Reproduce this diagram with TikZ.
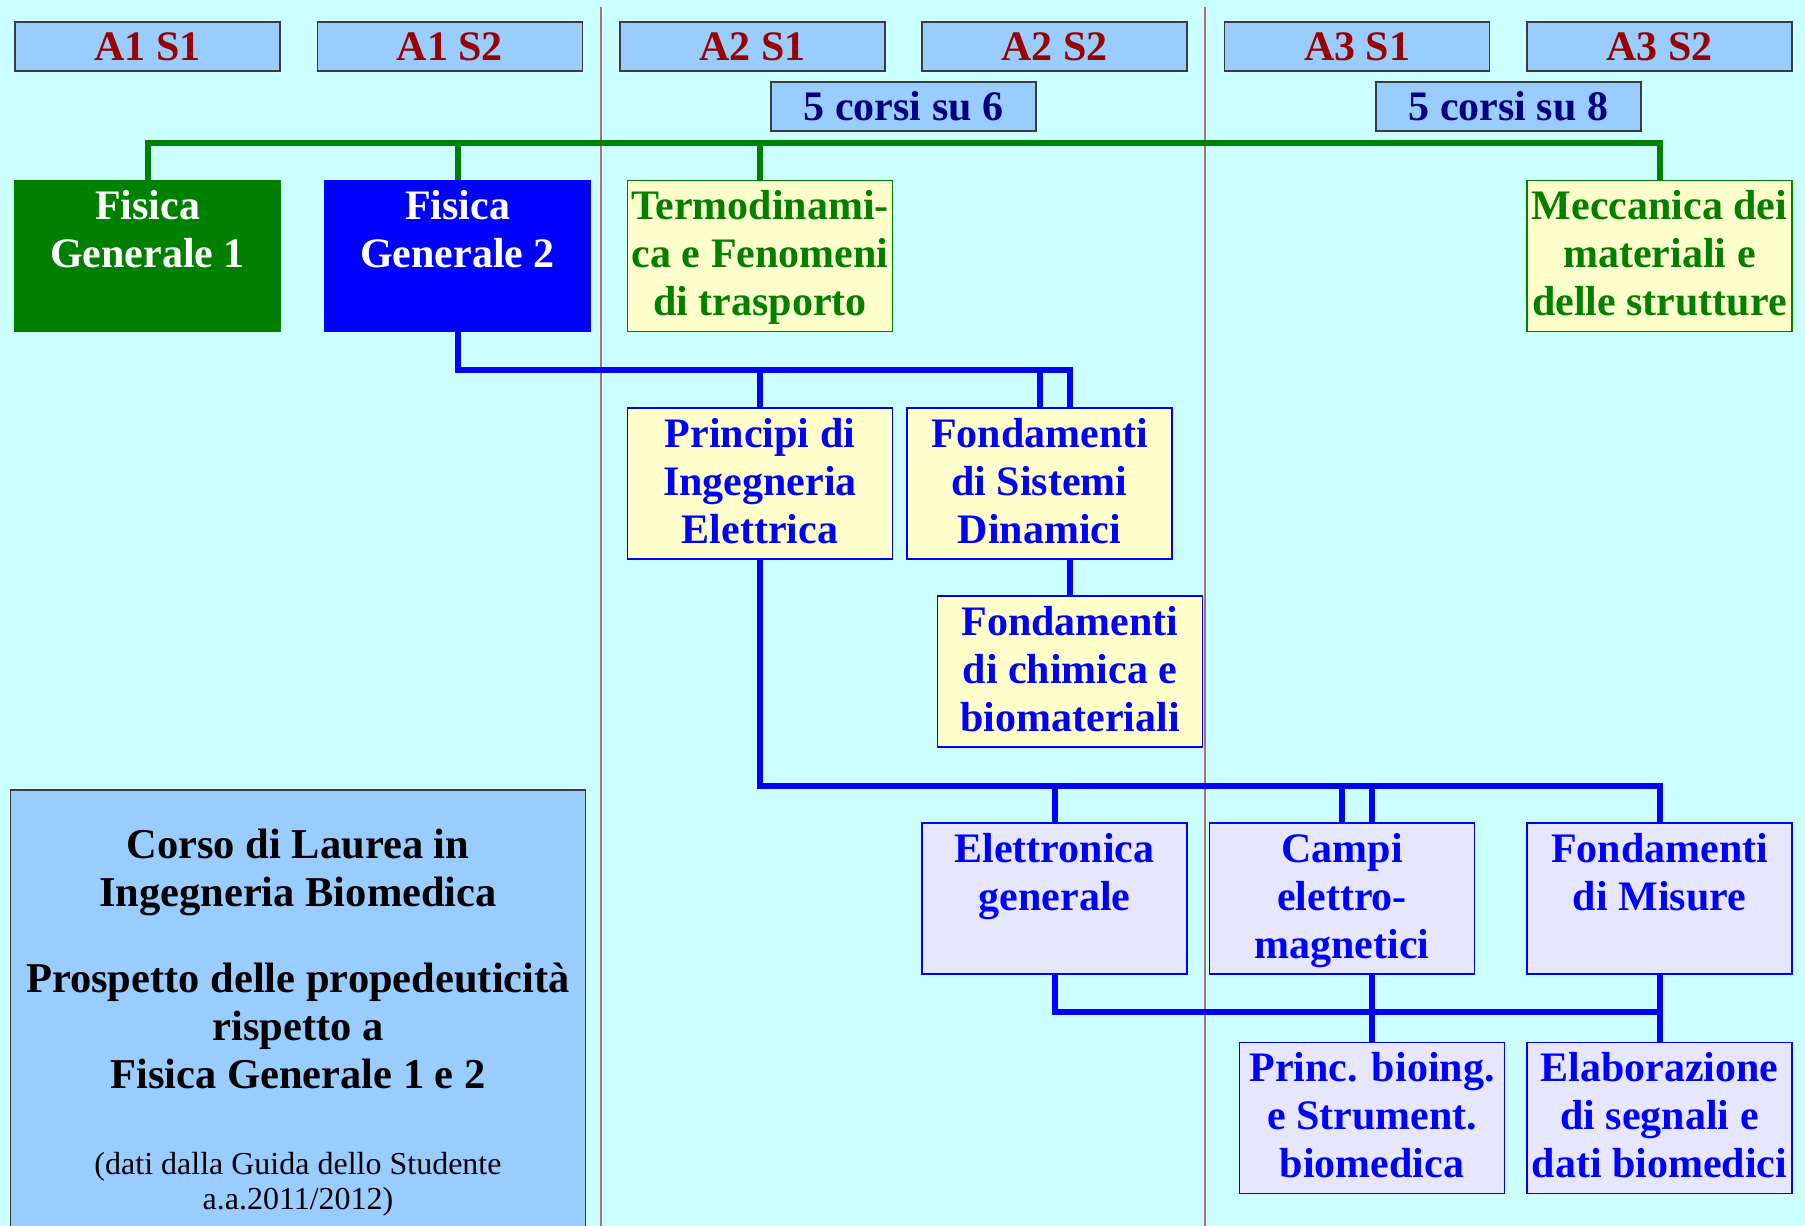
\documentclass[tikz,border=0pt]{standalone}
\usepackage{fontspec}
\setmainfont{Liberation Serif}
\definecolor{bg}{RGB}{204,255,255}
\definecolor{hdr}{RGB}{153,204,255}
\definecolor{hdrtxt}{RGB}{153,0,0}
\definecolor{navytxt}{RGB}{0,0,128}
\definecolor{dgreen}{RGB}{0,128,0}
\definecolor{pblue}{RGB}{0,0,255}
\definecolor{lyellow}{RGB}{255,255,204}
\definecolor{lav}{RGB}{230,230,255}
\definecolor{sepcol}{RGB}{176,112,112}
\definecolor{edgegray}{RGB}{60,60,60}
\newcommand\cbox[1]{\parbox[c][151pt][t]{265pt}{\centering\fontsize{42}{48}\selectfont\bfseries\rule{0pt}{39pt}#1\par}}
\tikzset{
  hdrbox/.style={draw=edgegray, line width=1.5pt, fill=hdr, text=hdrtxt, minimum width=265pt, minimum height=49pt, inner sep=0pt, font=\fontsize{42}{48}\selectfont\bfseries},
  cntbox/.style={hdrbox, text=navytxt},
  course/.style={inner sep=0pt, line width=1.2pt},
  gfull/.style={course, fill=dgreen, draw=dgreen, text=white},
  bfull/.style={course, fill=pblue, draw=pblue, text=white},
  ygreen/.style={course, fill=lyellow, draw=dgreen, text=dgreen},
  yblue/.style={course, fill=lyellow, draw=pblue, text=pblue},
  lavbox/.style={course, fill=lav, draw=pblue, text=pblue},
  gline/.style={draw=dgreen, line width=6pt},
  bline/.style={draw=pblue, line width=6pt},
  sepline/.style={draw=sepcol, line width=1.5pt},
  infobox/.style={draw=edgegray, line width=1.5pt, fill=hdr, text=black, inner sep=0pt}
}
\begin{document}
\begin{tikzpicture}[x=1pt, y=-1pt]
\path[fill=bg] (0,0) rectangle (1805,1226);
\clip (0,0) rectangle (1805,1226);
% separators
\draw[sepline] (601,7) -- (601,1226);
\draw[sepline] (1205,7) -- (1205,1226);
% headers
\node[hdrbox] (h11) at (147.5,46.5) {A1 S1};
\node[hdrbox] (h12) at (449.9,46.5) {A1 S2};
\node[hdrbox] (h21) at (752.3,46.5) {A2 S1};
\node[hdrbox] (h22) at (1054.7,46.5) {A2 S2};
\node[hdrbox] (h31) at (1357.1,46.5) {A3 S1};
\node[hdrbox] (h32) at (1659.5,46.5) {A3 S2};
\node[cntbox] (c6) at (903.5,106.5) {5 corsi su 6};
\node[cntbox] (c8) at (1508.3,106.5) {5 corsi su 8};
% row 1
\node[gfull] (fg1) at (147.5,256) {\cbox{Fisica\\Generale 1}};
\node[bfull] (fg2) at (457.5,256) {\cbox{Fisica\\Generale 2}};
\node[ygreen] (termo) at (760,256) {\cbox{Termodinami-\\ca e Fenomeni\\di trasporto}};
\node[ygreen] (mecc) at (1659.5,256) {\cbox{Meccanica dei\\materiali e\\delle strutture}};
% row 2
\node[yblue] (pie) at (760,483.5) {\cbox{Principi di\\Ingegneria\\Elettrica}};
\node[yblue] (fsd) at (1039.5,483.5) {\cbox{Fondamenti\\di Sistemi\\Dinamici}};
\node[yblue] (fcb) at (1070,671.5) {\cbox{Fondamenti\\di chimica e\\biomateriali}};
% row 3
\node[lavbox] (eg) at (1054.5,898.5) {\cbox{Elettronica\\generale}};
\node[lavbox] (cem) at (1342,898.5) {\cbox{Campi\\elettro-\\magnetici}};
\node[lavbox] (fm) at (1659.5,898.5) {\cbox{Fondamenti\\di Misure}};
% row 4
\node[lavbox] (pbb) at (1372,1118) {\cbox{Princ. bioing.\\e Strument.\\biomedica}};
\node[lavbox] (esb) at (1659.5,1118) {\cbox{Elaborazione\\di segnali e\\dati biomedici}};
% info box
\node[infobox, anchor=north] (info) at (298,789) {\parbox[c][460pt][t]{575pt}{\centering\bfseries\fontsize{42.5}{48}\selectfont\rule{0pt}{69pt}Corso di Laurea in\\Ingegneria Biomedica\\[38pt]Prospetto delle propedeuticità\\rispetto a\\Fisica Generale 1 e 2\par\vspace{51pt}\mdseries\fontsize{32}{35}\selectfont(dati dalla Guida dello Studente\\a.a.2011/2012)\par}};
% green bus
\coordinate (gb) at (0,143);
\draw[gline] (fg1.north) -- (fg1.north |- gb) -- (mecc.north |- gb) -- (mecc.north);
\draw[gline] (fg2.north) -- (fg2.north |- gb);
\draw[gline] (termo.north) -- (termo.north |- gb);
% blue bus 1
\coordinate (b1) at (0,369.5);
\draw[bline] (fg2.south) -- (fg2.south |- b1) -- (fcb.north |- b1) -- (fcb.north |- fsd.north);
\draw[bline] (pie.north) -- (pie.north |- b1);
\draw[bline] (fsd.north) -- (fsd.north |- b1);
\draw[bline] (fcb.north |- fsd.south) -- (fcb.north);
% blue bus 2
\coordinate (b2) at (0,785.5);
\draw[bline] (pie.south) -- (pie.south |- b2) -- (fm.north |- b2) -- (fm.north);
\draw[bline] (eg.north) -- (eg.north |- b2);
\draw[bline] (cem.north) -- (cem.north |- b2);
\draw[bline] (pbb.north |- cem.north) -- (pbb.north |- b2);
% blue bus 3
\coordinate (b3) at (0,1012);
\draw[bline] (eg.south) -- (eg.south |- b3) -- (fm.south |- b3);
\draw[bline] (fm.south) -- (esb.north);
\draw[bline] (pbb.north |- cem.south) -- (pbb.north);
\end{tikzpicture}
\end{document}
